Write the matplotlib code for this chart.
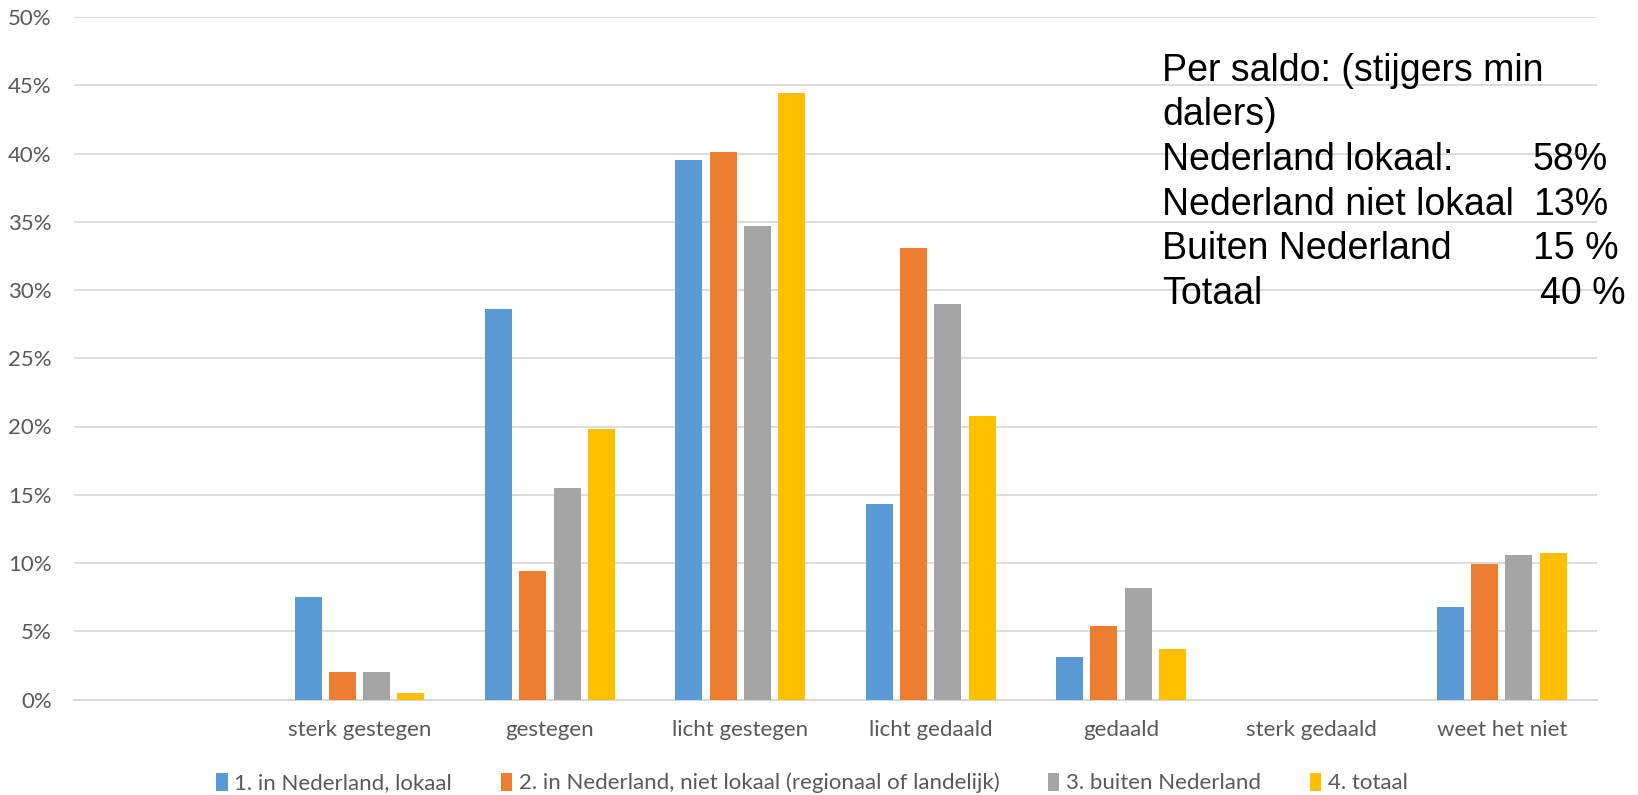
import matplotlib.pyplot as plt
import numpy as np

categories = ['', 'sterk gestegen', 'gestegen', 'licht gestegen', 'licht gedaald',
              'gedaald', 'sterk gedaald', 'weet het niet']
series_names = ['1. in Nederland, lokaal',
                '2. in Nederland, niet lokaal (regionaal of landelijk)',
                '3. buiten Nederland',
                '4. totaal']
lokaal = [0, 7.5, 28.6, 39.5, 14.3, 3.15, 0, 6.75]
niet_lokaal = [0, 2.05, 9.45, 40.1, 33.1, 5.35, 0, 9.9]
buiten = [0, 2.0, 15.5, 34.7, 29.0, 8.15, 0, 10.6]
totaal = [0, 0.5, 19.8, 44.4, 20.8, 3.7, 0, 10.7]
colors = ['#5B9BD5', '#ED7D31', '#A5A5A5', '#FFC000']

saldo_labels = ['Nederland lokaal:', 'Nederland niet lokaal', 'Buiten Nederland', 'Totaal']
saldo_values = ['58%', '13%', '15 %', '40 %']

plt.rcParams['font.family'] = ['Lato', 'DejaVu Sans']

fig = plt.figure(figsize=(16.38, 7.95), dpi=100)
ax = fig.add_axes([74 / 1638, 1 - 699.5 / 795, 1523 / 1638, 682.5 / 795])

x = np.arange(len(categories))
pitch = 0.18
for i, (vals, name) in enumerate(zip([lokaal, niet_lokaal, buiten, totaal], series_names)):
    ax.bar(x + (i - 1.5) * pitch, vals, width=0.142, color=colors[i], label=name, zorder=3)

ax.set_xlim(-0.5, len(categories) - 0.5)
ax.set_ylim(0, 50)
ax.set_yticks(np.arange(0, 51, 5))
ax.set_yticklabels([f'{v}%' for v in range(0, 51, 5)])
ax.set_xticks(x)
ax.set_xticklabels(categories)
ax.tick_params(axis='both', length=0, labelsize=16, labelcolor='#595959')
ax.tick_params(axis='y', pad=16)
ax.tick_params(axis='x', pad=15)
ax.grid(axis='y', color='#D9D9D9', linewidth=1.3, zorder=0)
for side in ['top', 'right', 'left']:
    ax.spines[side].set_visible(False)
ax.spines['bottom'].set_color('#D9D9D9')
ax.spines['bottom'].set_linewidth(1.5)

leg = fig.legend(loc='center', bbox_to_anchor=(812 / 1638, 1 - 783 / 795), ncol=4,
                 frameon=False, fontsize=16, handlelength=0.5, handleheight=0.9,
                 handletextpad=0.3, columnspacing=2.2)
for t in leg.get_texts():
    t.set_color('#595959')

# textbox with net balance
tfont = dict(family=['Liberation Sans', 'DejaVu Sans'], fontsize=27, color='black', va='baseline')
fig.text(1162 / 1638, 1 - 81 / 795, 'Per saldo: (stijgers min', **tfont)
fig.text(1162 / 1638, 1 - 125 / 795, 'dalers)', **tfont)
for k, (lab, val) in enumerate(zip(saldo_labels, saldo_values)):
    yb = 170 + k * 44.7
    fig.text(1162 / 1638, 1 - yb / 795, lab, **tfont)
    xv = 1540 if k == 3 else 1533
    fig.text(xv / 1638, 1 - yb / 795, val, **tfont)

plt.savefig('out.png', dpi=100)
